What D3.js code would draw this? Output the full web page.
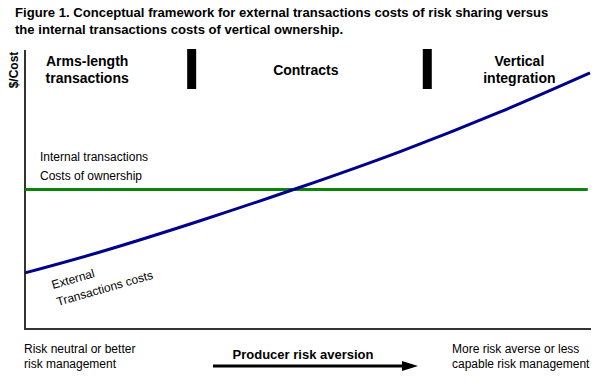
<!DOCTYPE html>
<html>
<head>
<meta charset="utf-8">
<script src="https://cdn.jsdelivr.net/npm/d3@7"></script>
<style>
  html, body { margin: 0; padding: 0; background: #fff; }
  svg { display: block; font-family: Arial, "Liberation Sans", sans-serif; }
</style>
</head>
<body>
<svg id="chart" width="608" height="384"></svg>
<script>
// ---- data ----
const titleLines = [
  "Figure 1. Conceptual framework for external transactions costs of risk sharing versus",
  "the internal transactions costs of vertical ownership."
];
const riskAversion = [0, 13.3, 31, 48.7, 66.4, 84.1, 100];
const externalCost = [20.1, 27.6, 38.8, 50.8, 63.6, 77.8, 91.8];
const internalX = [0, 99.6];
const internalCost = [50, 50];
const regionNames = [["Arms-length", "transactions"], ["Contracts"], ["Vertical", "integration"]];
const regionCenters = [11, 49.7, 87.5];
const boundaries = [29.5, 71.2];
const yLabel = "$/Cost";
const xLabel = "Producer risk aversion";
const leftNote = ["Risk neutral or better", "risk management"];
const rightNote = ["More risk averse or less", "capable risk management"];
const internalLabel = ["Internal transactions", "Costs of ownership"];
const externalLabel = ["External", "Transactions costs"];

// ---- chart ----
const svg = d3.select("#chart");
const x = d3.scaleLinear().domain([0, 100]).range([25, 590]);
const y = d3.scaleLinear().domain([0, 100]).range([329, 50]);

// title
svg.selectAll("text.title").data(titleLines).join("text")
  .attr("class", "title")
  .attr("x", 15).attr("y", (d, i) => 17 + i * 17)
  .attr("font-size", 13.1).attr("font-weight", "bold").attr("fill", "#000")
  .text(d => d);

// axes
svg.append("line")
  .attr("x1", x(0)).attr("x2", x(0)).attr("y1", y(100)).attr("y2", y(0))
  .attr("stroke", "#333").attr("stroke-width", 2);
svg.append("line")
  .attr("x1", x(0) - 1).attr("x2", x(100) + 1).attr("y1", y(0)).attr("y2", y(0))
  .attr("stroke", "#333").attr("stroke-width", 2);

// y label
svg.append("text")
  .attr("transform", `translate(18,70) rotate(-90)`)
  .attr("text-anchor", "middle")
  .attr("font-size", 12).attr("font-weight", "bold")
  .text(yLabel);

// boundaries
svg.selectAll("rect.bound").data(boundaries).join("rect")
  .attr("class", "bound")
  .attr("x", d => x(d) - 4.5).attr("width", 9)
  .attr("y", 49).attr("height", 40)
  .attr("fill", "#000");

// region names
regionNames.forEach((lines, i) => {
  const t = svg.append("text")
    .attr("text-anchor", "middle")
    .attr("font-size", 14).attr("font-weight", "bold");
  const y0 = lines.length === 1 ? 75 : 66;
  lines.forEach((l, j) => {
    t.append("tspan").attr("x", x(regionCenters[i])).attr("y", y0 + j * 17).text(l);
  });
});

// lines
const lineGen = d3.line().x(d => x(d[0])).y(d => y(d[1]));
svg.append("path")
  .datum(internalX.map((v, i) => [v, internalCost[i]]))
  .attr("d", lineGen)
  .attr("fill", "none").attr("stroke", "#0a850a").attr("stroke-width", 3);
svg.append("path")
  .datum(riskAversion.map((v, i) => [v, externalCost[i]]))
  .attr("d", lineGen.curve(d3.curveNatural))
  .attr("fill", "none").attr("stroke", "#00008b").attr("stroke-width", 3);

// internal label
svg.selectAll("text.internal").data(internalLabel).join("text")
  .attr("class", "internal")
  .attr("x", 40).attr("y", (d, i) => 161 + i * 19)
  .attr("font-size", 12).attr("fill", "#000")
  .text(d => d);

// external label (rotated)
svg.append("text")
  .attr("transform", "translate(53,289) rotate(-16)")
  .attr("font-size", 12).text(externalLabel[0]);
svg.append("text")
  .attr("transform", "translate(58,306) rotate(-16)")
  .attr("font-size", 12).text(externalLabel[1]);

// bottom notes
svg.selectAll("text.left").data(leftNote).join("text")
  .attr("class", "left")
  .attr("x", 24).attr("y", (d, i) => 353 + i * 15)
  .attr("font-size", 12).text(d => d);
svg.selectAll("text.right").data(rightNote).join("text")
  .attr("class", "right")
  .attr("x", 452).attr("y", (d, i) => 353 + i * 15)
  .attr("font-size", 12).text(d => d);

// x label and arrow
svg.append("text")
  .attr("x", 303).attr("y", 359)
  .attr("text-anchor", "middle")
  .attr("font-size", 13).attr("font-weight", "bold")
  .text(xLabel);
svg.append("line")
  .attr("x1", 213).attr("x2", 404).attr("y1", 366).attr("y2", 366)
  .attr("stroke", "#000").attr("stroke-width", 3);
svg.append("path")
  .attr("d", "M402,361 L418,366 L402,371 Z")
  .attr("fill", "#000");
</script>
</body>
</html>
